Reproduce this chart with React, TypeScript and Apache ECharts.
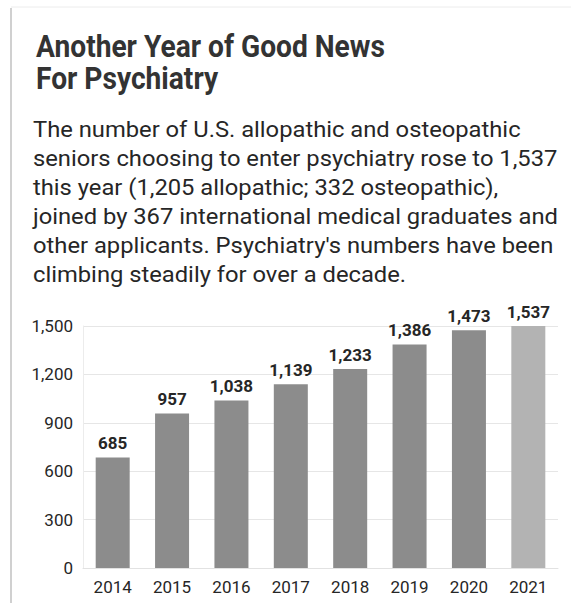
import React, { useEffect, useRef } from "react";
import * as echarts from "echarts";

const years = ["2014", "2015", "2016", "2017", "2018", "2019", "2020", "2021"];
const seniors = [685, 957, 1038, 1139, 1233, 1386, 1473, 1537];
const titleLines = ["Another Year of Good News", "For Psychiatry"];
const bodyLines = [
  "The number of U.S. allopathic and osteopathic",
  "seniors choosing to enter psychiatry rose to 1,537",
  "this year (1,205 allopathic; 332 osteopathic),",
  "joined by 367 international medical graduates and",
  "other applicants. Psychiatry's numbers have been",
  "climbing steadily for over a decade.",
];

const BAR = "#8c8c8c";
const BAR_LAST = "#b3b3b3";
const TEXT = "#262626";

export default function App() {
  const ref = useRef<HTMLDivElement>(null);
  useEffect(() => {
    if (!ref.current) return;
    const chart = echarts.init(ref.current, null, { renderer: "svg" });
    const titleEls = titleLines.map((t, i) => ({
      type: "text",
      x: 36,
      y: 46 + i * 31.5,
      scaleX: 0.88,
      style: {
        text: t,
        fill: "#333333",
        fontFamily: "Roboto, sans-serif",
        fontWeight: "bold",
        fontSize: 32,
        verticalAlign: "middle",
        align: "left",
      },
    }));
    const bodyEls = bodyLines.map((t, i) => ({
      type: "text",
      x: 33,
      y: 129.5 + i * 29,
      scaleX: 1.08,
      style: {
        text: t,
        fill: TEXT,
        fontFamily: "Roboto, sans-serif",
        fontWeight: "normal",
        fontSize: 22,
        verticalAlign: "middle",
        align: "left",
      },
    }));
    chart.setOption({
      animation: false,
      backgroundColor: "#ffffff",
      graphic: [
        {
          type: "line",
          shape: { x1: 11, y1: 8, x2: 11, y2: 603 },
          style: { stroke: "#d0d0d0", lineWidth: 2 },
        },
        {
          type: "line",
          shape: { x1: 11, y1: 7, x2: 571, y2: 7 },
          style: { stroke: "#ececec", lineWidth: 1 },
        },
        ...titleEls,
        ...bodyEls,
      ],
      grid: { left: 83, top: 326, width: 475, height: 242, containLabel: false },
      xAxis: {
        type: "category",
        data: years,
        axisLine: { show: true, lineStyle: { color: "#e2e2e2" } },
        axisTick: { show: false },
        axisLabel: {
          color: TEXT,
          fontFamily: "Roboto, sans-serif",
          fontSize: 17,
          margin: 10,
        },
      },
      yAxis: {
        type: "value",
        min: 0,
        max: 1500,
        interval: 300,
        axisLine: { show: true, lineStyle: { color: "#ececec" } },
        axisTick: { show: false },
        splitLine: { lineStyle: { color: "#e6e6e6", width: 1 } },
        axisLabel: {
          color: TEXT,
          fontFamily: "Roboto, sans-serif",
          fontSize: 17,
          margin: 10,
          formatter: (v: number) => v.toLocaleString("en-US"),
        },
      },
      series: [
        {
          type: "bar",
          data: seniors.map((v, i) => ({
            value: v,
            itemStyle: { color: i === seniors.length - 1 ? BAR_LAST : BAR },
          })),
          barWidth: 34,
          label: {
            show: true,
            position: "top",
            distance: 6,
            color: TEXT,
            fontFamily: "Roboto, sans-serif",
            fontWeight: "bold",
            fontSize: 17,
            formatter: (p: any) => Number(p.value).toLocaleString("en-US"),
          },
        },
      ],
    });
    return () => chart.dispose();
  }, []);
  return (
    <div
      ref={ref}
      style={{ position: "fixed", left: 0, top: 0, width: 571, height: 603 }}
    />
  );
}
